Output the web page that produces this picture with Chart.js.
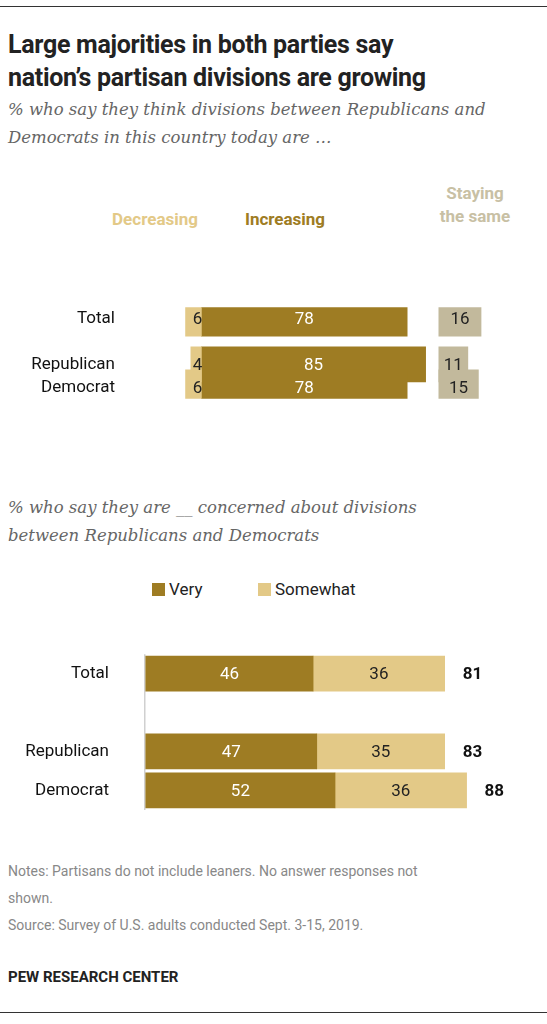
<!DOCTYPE html>
<html>
<head>
<meta charset="utf-8">
<script src="https://cdn.jsdelivr.net/npm/chart.js@4"></script>
<style>
  body { margin: 0; width: 547px; height: 1024px; background: #fff; font-family: Roboto, "Liberation Sans", sans-serif; position: relative; overflow: hidden; }
  .abs { position: absolute; }
  .title { left: 8px; top: 28px; font-size: 25px; font-weight: bold; line-height: 33px; color: #222; letter-spacing: -0.3px; }
  .sub { left: 8px; font-family: "DejaVu Serif", "Liberation Serif", serif; font-style: italic; font-size: 16.5px; line-height: 28px; color: #666; }
  .hdr { font-weight: bold; font-size: 17px; line-height: 23px; text-align: center; }
  .leg { font-size: 17px; color: #222; display: flex; align-items: center; }
  .sw { width: 13px; height: 13px; display: inline-block; margin-right: 4px; }
  .notes { left: 8px; top: 858px; font-size: 14px; line-height: 27px; color: #888; }
  .pew { left: 8px; top: 968px; font-size: 15px; font-weight: bold; color: #222; }
  canvas { position: absolute; left: 0; }
</style>
</head>
<body>
<div class="abs" style="left:0;top:6px;width:547px;border-top:1px solid #333"></div>
<div class="abs title">Large majorities in both parties say<br>nation’s partisan divisions are growing</div>
<div class="abs sub" style="top:96px">% who say they think divisions between Republicans and<br>Democrats in this country today are …</div>
<div class="abs hdr" style="left:90px;top:208px;width:130px;color:#e3c987">Decreasing</div>
<div class="abs hdr" style="left:230px;top:208px;width:110px;color:#9e7c23">Increasing</div>
<div class="abs hdr" style="left:420px;top:182px;width:110px;color:#c8c0a4">Staying<br>the same</div>
<canvas id="c1" width="547" height="216" style="top:245px"></canvas>
<div class="abs sub" style="top:494px">% who say they are __ concerned about divisions<br>between Republicans and Democrats</div>
<div class="abs leg" style="left:152px;top:579px"><span class="sw" style="background:#9e7c23"></span>Very</div>
<div class="abs leg" style="left:258px;top:579px"><span class="sw" style="background:#e3c987"></span>Somewhat</div>
<canvas id="c2" width="547" height="232" style="top:616px"></canvas>
<div class="abs notes">Notes: Partisans do not include leaners. No answer responses not<br>shown.<br>Source: Survey of U.S. adults conducted Sept. 3-15, 2019.</div>
<div class="abs pew">PEW RESEARCH CENTER</div>
<div class="abs" style="left:0;top:1012px;width:547px;border-top:1px solid #333"></div>
<script>
const groups = ['Total', '', 'Republican', 'Democrat'];
const decreasing = [6, null, 4, 6];
const increasing = [78, null, 85, 78];
const stayingSame = [16, null, 11, 15];
const very = [46, null, 47, 52];
const somewhat = [36, null, 35, 36];
const netConcerned = [81, null, 83, 88];

const GOLD = '#9e7c23', LIGHT = '#e3c987', GREY = '#c2b99c';
const font = { family: 'Roboto, "Liberation Sans", sans-serif', size: 17 };

// gap that pushes "staying the same" into its own column at 90
const gap = increasing.map(v => v == null ? null : 90 - v);

const labelPlugin = {
  id: 'barLabels',
  afterDatasetsDraw(chart) {
    const c = chart.ctx;
    c.save();
    c.font = '17px ' + font.family;
    c.textBaseline = 'middle';
    chart.data.datasets.forEach((ds, i) => {
      if (!ds.labelColor) return;
      chart.getDatasetMeta(i).data.forEach((bar, j) => {
        const v = ds.shown ? ds.shown[j] : ds.data[j];
        if (v == null) return;
        const left = Math.min(bar.x, bar.base), right = Math.max(bar.x, bar.base);
        c.fillStyle = ds.labelColor;
        c.textAlign = ds.align || 'center';
        let x = (left + right) / 2;
        if (ds.align === 'right') x = right + 1;
        c.fillText(Math.abs(v), x, bar.y + 1);
      });
    });
    if (chart.options.plugins.totals) {
      c.font = 'bold 17px ' + font.family;
      c.fillStyle = '#111';
      c.textAlign = 'left';
      const meta = chart.getDatasetMeta(1);
      meta.data.forEach((bar, j) => {
        if (netConcerned[j] == null) return;
        c.fillText(netConcerned[j], bar.x + 18, bar.y + 1);
      });
    }
    c.restore();
  }
};

function baseOptions(min, max, yWidth, pad) {
  return {
    indexAxis: 'y',
    responsive: false,
    animation: false,
    layout: { padding: 0 },
    plugins: { legend: { display: false }, tooltip: { enabled: false } },
    scales: {
      x: {
        stacked: true, min: min, max: max, display: true,
        ticks: { display: false }, border: { display: false },
        grid: { drawTicks: false, color: ctx => ctx.tick && ctx.tick.value === 0 ? '#d0d0d0' : 'transparent', lineWidth: 1.5 }
      },
      y: {
        stacked: true,
        grid: { display: false }, border: { display: false },
        ticks: { color: '#111', font: font, padding: pad },
        afterFit: s => { s.width = yWidth; }
      }
    }
  };
}

new Chart(document.getElementById('c1'), {
  type: 'bar',
  data: {
    labels: groups,
    datasets: [
      { data: decreasing.map(v => v == null ? null : -v), shown: decreasing, backgroundColor: LIGHT, barThickness: 35, labelColor: '#222', align: 'right' },
      { data: increasing, backgroundColor: GOLD, barThickness: 35, labelColor: '#fff' },
      { data: gap, backgroundColor: 'transparent', barThickness: 35 },
      { data: stayingSame, backgroundColor: GREY, barThickness: 35, labelColor: '#222' }
    ]
  },
  options: baseOptions(-10, 131, 175, 52),
  plugins: [labelPlugin]
});

const opt2 = baseOptions(0, 110, 145, 28);
opt2.plugins.totals = true;
new Chart(document.getElementById('c2'), {
  type: 'bar',
  data: {
    labels: groups,
    datasets: [
      { data: very, backgroundColor: GOLD, barThickness: 35, labelColor: '#fff' },
      { data: somewhat, backgroundColor: LIGHT, barThickness: 35, labelColor: '#222' }
    ]
  },
  options: opt2,
  plugins: [labelPlugin]
});
</script>
</body>
</html>
